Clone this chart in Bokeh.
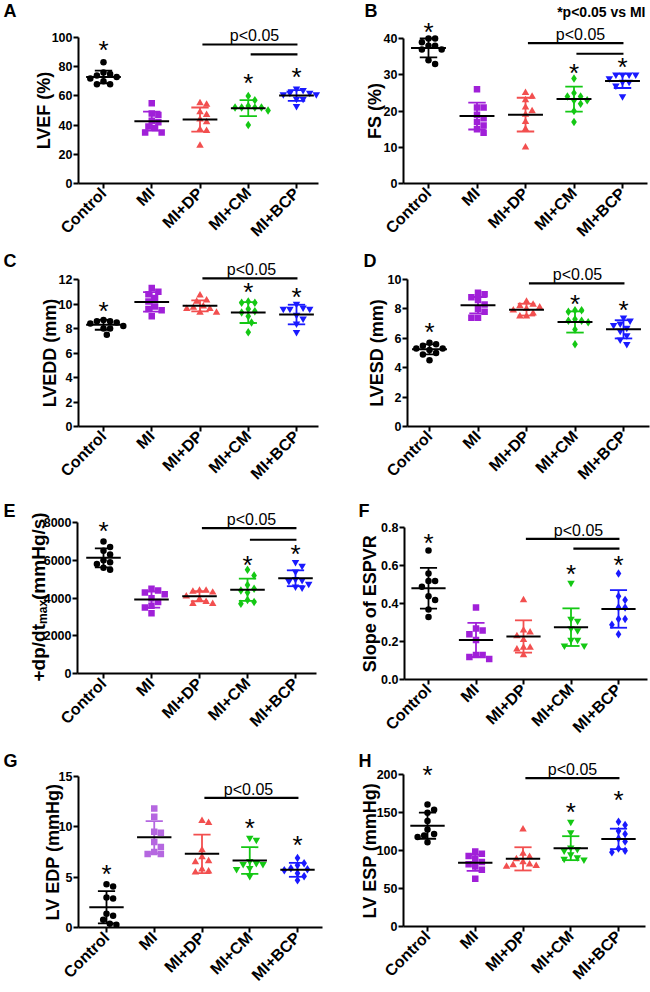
import math
from bokeh.plotting import figure
from bokeh.layouts import row, column
from bokeh.models import Range1d, FixedTicker, PrintfTickFormatter
from bokeh.embed import file_html
from bokeh.resources import INLINE
from bokeh.core.properties import value

groups = ["Control", "MI", "MI+DP", "MI+CM", "MI+BCP"]

# ---------------- data ----------------
lvef_points = [[83, 75, 76, 74, 73, 72, 70, 68, 68],
               [55, 47, 48, 43, 42, 38, 39, 35, 35],
               [55, 54, 49, 47, 44, 42, 37, 36, 26],
               [60, 57, 53, 52, 52, 52, 52, 50, 40],
               [65, 64, 62, 62, 61, 61, 58, 58, 53]]
lvef_mean = [73.0, 42.7, 43.8, 51.6, 60.3]
lvef_sd = [4.35, 6.5, 8.25, 5.45, 3.65]

fs_points = [[40, 40, 39, 38, 38, 37, 37, 34, 33],
             [26, 21, 21, 19, 18, 17, 16, 15, 14],
             [25, 24, 23, 21, 20, 19, 17, 15, 10],
             [29, 25, 24, 24, 23, 23, 22, 20, 17],
             [30, 30, 30, 30, 29, 28, 28, 27, 24]]
fs_mean = [37.4, 18.6, 19.0, 23.3, 28.3]
fs_sd = [2.6, 3.7, 4.65, 3.45, 1.95]

lvedd_points = [[8.7, 8.6, 8.6, 8.5, 8.4, 8.2, 8.0, 8.0, 7.5],
                [11.3, 11.0, 10.8, 10.5, 10.2, 9.8, 9.6, 9.5, 9.0],
                [10.7, 10.3, 10.2, 9.8, 9.7, 9.6, 9.6, 9.3, 9.3],
                [10.2, 10.1, 10.1, 9.6, 9.4, 9.3, 9.0, 8.5, 7.7],
                [10.0, 9.7, 9.6, 9.6, 9.6, 9.1, 8.8, 8.4, 7.7]]
lvedd_mean = [8.3, 10.17, 9.85, 9.3, 9.14]
lvedd_sd = [0.4, 0.8, 0.45, 0.85, 0.8]

lvesd_points = [[5.7, 5.6, 5.5, 5.3, 5.3, 5.2, 5.0, 4.9, 4.5],
                [9.1, 9.0, 8.8, 8.6, 8.3, 8.0, 7.8, 7.4, 7.4],
                [8.5, 8.3, 8.2, 8.1, 8.0, 7.9, 7.7, 7.5, 7.5],
                [7.9, 7.9, 7.8, 7.3, 7.2, 7.2, 7.1, 6.6, 5.6],
                [7.4, 7.2, 7.0, 6.9, 6.7, 6.5, 6.2, 5.9, 5.6]]
lvesd_mean = [5.25, 8.25, 7.95, 7.11, 6.61]
lvesd_sd = [0.34, 0.56, 0.4, 0.72, 0.62]

dpdt_points = [[7000, 6700, 6500, 6300, 6000, 5900, 5800, 5600, 5500],
               [4500, 4400, 4300, 4200, 4000, 3800, 3600, 3500, 3200],
               [4400, 4400, 4350, 4300, 4100, 3950, 3800, 3700, 3700],
               [5500, 5200, 4700, 4500, 4400, 4300, 3900, 3800, 3700],
               [5900, 5700, 5400, 5000, 4950, 4900, 4750, 4600, 4550]]
dpdt_mean = [6130, 3925, 4100, 4440, 5050]
dpdt_sd = [505, 425, 265, 590, 420]

espvr_points = [[0.68, 0.56, 0.52, 0.52, 0.49, 0.44, 0.42, 0.37, 0.33],
                [0.38, 0.27, 0.26, 0.24, 0.21, 0.13, 0.13, 0.12, 0.11],
                [0.42, 0.26, 0.25, 0.23, 0.21, 0.17, 0.17, 0.16, 0.13],
                [0.51, 0.32, 0.31, 0.27, 0.26, 0.21, 0.21, 0.18, 0.18],
                [0.56, 0.44, 0.42, 0.38, 0.38, 0.32, 0.32, 0.29, 0.24]]
espvr_mean = [0.482, 0.21, 0.228, 0.277, 0.373]
espvr_sd = [0.107, 0.09, 0.085, 0.099, 0.099]

edp_points = [[4.3, 4.1, 3.0, 2.9, 1.4, 1.2, 0.8, 0.4, 0.3],
              [11.8, 11.0, 9.5, 9.4, 8.5, 8.0, 7.5, 7.3, 7.3],
              [10.6, 10.4, 7.7, 7.0, 6.6, 6.5, 5.8, 5.6, 5.5],
              [8.9, 8.7, 6.6, 6.4, 6.3, 6.3, 5.9, 5.8, 5.1],
              [6.9, 6.4, 6.2, 5.9, 5.8, 5.7, 5.4, 5.1, 4.7]]
edp_mean = [2.04, 8.97, 7.32, 6.66, 5.74]
edp_sd = [1.6, 1.6, 1.9, 1.32, 0.69]

esp_points = [[161, 154, 150, 139, 128, 122, 120, 118, 111],
              [99, 96, 93, 89, 85, 82, 79, 75, 63],
              [128, 96, 92, 89, 85, 82, 81, 80, 79],
              [138, 124, 104, 102, 100, 95, 91, 89, 88],
              [138, 134, 126, 122, 116, 112, 103, 100, 98]]
esp_mean = [133, 84, 89.2, 103.3, 115.5]
esp_sd = [17.3, 10.6, 15.3, 15.8, 13.5]

# ---------------- styling / layout config ----------------
FONT = "Liberation Sans"
COLORS = ["#000000", "#a020d8", "#f24f4f", "#14c814", "#1a1aff"]
COLORS_G = ["#000000", "#b567e0", "#f24f4f", "#14c814", "#1a1aff"]
MK1 = ["circle", "square", "triangle", "diamond", "inverted_triangle"]
MK2 = ["circle", "square", "triangle", "inverted_triangle", "diamond"]
MSIZE = {"circle": 6.5, "square": 6.5, "triangle": 7.5, "diamond": 8.5,
         "inverted_triangle": 7.5}
BASE_FUDGE = 0.3    # empirical shift of the alphabetic baseline (in em)
BASE_FUDGE2 = 0.41  # used for letters and stars
YLAB_FS = 18

COL_X = [0, 325]
ROW_Y = [0, 250, 500, 750]
COL_W = [325, 325]
ROW_H = [250, 250, 250, 242]

# geometry in page pixels: (first category x, px per category, y-axis x,
#                           x-axis right end, y of value 0, px per unit)
panels = [
    dict(key="A", col=0, row=0, pts=lvef_points, mean=lvef_mean, sd=lvef_sd,
         ylabel="LVEF (%)", ylx=48.5, yticks=[0, 20, 40, 60, 80, 100], fmt="%d",
         geom=(103, 48.25, 78, 318, 183, 1.46), sig=[(2, 4, 95.2), (3, 4, 88.4)],
         ptx=254, stars={0: 94.5, 3: 72.0, 4: 76.0}, colors=COLORS, marks=MK1,
         letter=(3, 18)),
    dict(key="B", col=1, row=0, pts=fs_points, mean=fs_mean, sd=fs_sd,
         ylabel="FS (%)", ylx=379.5, yticks=[0, 10, 20, 30, 40], fmt="%d",
         geom=(428, 48.5, 403, 647, 183, 3.625), sig=[(2, 4, 38.7), (3, 4, 35.8)],
         ptx=580, stars={0: 43.0, 3: 31.6, 4: 33.3}, colors=COLORS, marks=MK1,
         letter=(364, 18)),
    dict(key="C", col=0, row=1, pts=lvedd_points, mean=lvedd_mean, sd=lvedd_sd,
         ylabel="LVEDD (mm)", ylx=54.5, yticks=[0, 2, 4, 6, 8, 10, 12], fmt="%d",
         geom=(103, 48.25, 78, 318, 426, 12.25), sig=[(2, 4, 12.1)],
         ptx=251, stars={0: 9.77, 3: 11.3, 4: 10.9}, colors=COLORS, marks=MK1,
         letter=(3, 268)),
    dict(key="D", col=1, row=1, pts=lvesd_points, mean=lvesd_mean, sd=lvesd_sd,
         ylabel="LVESD (mm)", ylx=381.5, yticks=[0, 2, 4, 6, 8, 10], fmt="%d",
         geom=(429, 48.5, 407, 649, 426, 14.7), sig=[(2, 4, 9.73)],
         ptx=577, stars={0: 6.73, 3: 8.64, 4: 8.18}, colors=COLORS, marks=MK1,
         letter=(363, 268)),
    dict(key="E", col=0, row=2, pts=dpdt_points, mean=dpdt_mean, sd=dpdt_sd,
         ylabel=None, ylx=None, yticks=[0, 2000, 4000, 6000, 8000], fmt="%d",
         geom=(103, 48.0, 77, 316, 673.3, 0.018917), sig=[(2, 4, 7700), (3, 4, 7085)],
         ptx=251, stars={0: 7790, 3: 5990, 4: 6560}, colors=COLORS, marks=MK1,
         letter=(3, 518)),
    dict(key="F", col=1, row=2, pts=espvr_points, mean=espvr_mean, sd=espvr_sd,
         ylabel="Slope of ESPVR", ylx=374.5, yticks=[0, 0.2, 0.4, 0.6, 0.8], fmt="%.1f",
         geom=(428, 47.5, 404, 647, 679.3, 190.0), sig=[(2, 4, 0.742), (3, 4, 0.69)],
         ptx=578, stars={0: 0.742, 3: 0.579, 4: 0.628}, colors=COLORS, marks=MK2,
         letter=(358, 518)),
    dict(key="G", col=0, row=3, pts=edp_points, mean=edp_mean, sd=edp_sd,
         ylabel="LV EDP (mmHg)", ylx=58, yticks=[0, 5, 10, 15], fmt="%d",
         geom=(106, 47.75, 78, 322, 927.3, 10.1), sig=[(2, 4, 12.87)],
         ptx=248, stars={0: 5.74, 3: 10.3, 4: 8.64}, colors=COLORS_G, marks=MK2,
         letter=(3, 768)),
    dict(key="H", col=1, row=3, pts=esp_points, mean=esp_mean, sd=esp_sd,
         ylabel="LV ESP (mmHg)", ylx=374.5, yticks=[0, 50, 100, 150, 200], fmt="%d",
         geom=(427, 47.75, 403, 645, 926, 0.7583), sig=[(2, 4, 195.6)],
         ptx=572, stars={0: 205, 3: 156.5, 4: 172.7}, colors=COLORS, marks=MK2,
         letter=(358, 768)),
]


def swarm_offsets(vals, ppu, d=6.6):
    """Simple beeswarm: horizontal pixel offsets for one group."""
    order = sorted(range(len(vals)), key=lambda i: -vals[i])
    cands = [0.0]
    for n in range(1, 30):
        cands += [n * d / 2.0, -n * d / 2.0]
    placed = []
    offs = [0.0] * len(vals)
    for i in order:
        y = vals[i] * ppu
        for c in cands:
            if all(math.hypot(c - px, y - py) >= d for px, py in placed):
                break
        placed.append((c, y))
        offs[i] = c
    return offs


def make_panel(cfg):
    col, rw = cfg["col"], cfg["row"]
    ox, oy, Wc, Hc = COL_X[col], ROW_Y[rw], COL_W[col], ROW_H[rw]
    cx0, ppc, axl, axr, y0, ppu = cfg["geom"]

    def dx(px):
        return (px - cx0) / ppc

    def dy(py):
        return (y0 - py) / ppu

    p = figure(width=Wc, height=Hc,
               x_range=Range1d(dx(ox), dx(ox + Wc)),
               y_range=Range1d(dy(oy + Hc), dy(oy)),
               output_backend="svg", toolbar_location=None,
               min_border_left=0, min_border_right=0,
               min_border_top=0, min_border_bottom=0)
    p.title.visible = False
    p.xgrid.visible = False
    p.ygrid.visible = False
    p.outline_line_color = None

    ya = p.yaxis[0]
    ya.fixed_location = dx(axl)
    ya.ticker = FixedTicker(ticks=cfg["yticks"])
    ya.formatter = PrintfTickFormatter(format=cfg["fmt"])
    ya.bounds = (0, cfg["yticks"][-1])
    ya.axis_line_width = 2
    ya.major_tick_line_width = 2
    ya.major_tick_out = 5
    ya.major_tick_in = 0
    ya.minor_tick_line_color = None
    ya.major_label_text_font = FONT
    ya.major_label_text_font_size = "12.5px"
    ya.major_label_text_font_style = "bold"
    ya.major_label_text_color = "black"
    ya.major_label_standoff = 1

    xa = p.xaxis[0]
    xa.fixed_location = 0
    xa.bounds = (dx(axl), dx(axr))
    xa.ticker = FixedTicker(ticks=[0, 1, 2, 3, 4])
    xa.major_label_overrides = {i: g for i, g in enumerate(groups)}
    xa.major_label_orientation = math.pi / 4
    xa.axis_line_width = 2
    xa.major_tick_line_width = 2
    xa.major_tick_out = 5
    xa.major_tick_in = 0
    xa.minor_tick_line_color = None
    xa.major_label_text_font = FONT
    xa.major_label_text_font_size = "16px"
    xa.major_label_text_font_style = "bold"
    xa.major_label_text_color = "black"
    xa.major_label_standoff = 2

    # points (beeswarm)
    for gi, vals in enumerate(cfg["pts"]):
        offs = swarm_offsets(vals, ppu)
        mk = cfg["marks"][gi]
        p.scatter([gi + o / ppc for o in offs], vals, marker=mk, size=MSIZE[mk],
                  color=cfg["colors"][gi], line_width=0)
    # error bars (SD) + mean lines
    for gi in range(5):
        m, s = cfg["mean"][gi], cfg["sd"][gi]
        c = cfg["colors"][gi]
        p.segment(x0=[gi], y0=[m - s], x1=[gi], y1=[m + s], line_color=c, line_width=1.8)
        p.segment(x0=[gi - 0.18, gi - 0.18], y0=[m - s, m + s],
                  x1=[gi + 0.18, gi + 0.18], y1=[m - s, m + s], line_color=c,
                  line_width=1.8)
        p.segment(x0=[gi - 0.36], y0=[m], x1=[gi + 0.36], y1=[m],
                  line_color="black", line_width=2)
    # significance brackets
    top_line = max(s[2] for s in cfg["sig"])
    for (i, j, yv) in cfg["sig"]:
        p.segment(x0=[i + 0.05], y0=[yv], x1=[j + 0.02], y1=[yv],
                  line_color="black", line_width=2.2)
    pfs = 16
    line_py = y0 - top_line * ppu
    p.text(x=[dx(cfg["ptx"])], y=[dy(line_py - 4 - BASE_FUDGE * pfs)], text=["p<0.05"],
           text_font=value(FONT), text_font_size=f"{pfs}px", text_align="center",
           text_baseline="alphabetic", text_color="black")
    # stars
    sfs = 26
    keys = list(cfg["stars"].keys())
    sy = []
    for k in keys:
        cpy = y0 - cfg["stars"][k] * ppu
        sy.append(dy(cpy + 0.57 * sfs - BASE_FUDGE2 * sfs))
    p.text(x=keys, y=sy, text=["*"] * len(keys), text_font=value(FONT),
           text_font_size=f"{sfs}px", text_align="center", text_baseline="alphabetic",
           text_color="black")

    # y-axis title (rotated text)
    if cfg["ylabel"]:
        top_py = y0 - cfg["yticks"][-1] * ppu
        cy = (y0 + top_py) / 2.0
        p.text(x=[dx(cfg["ylx"] - BASE_FUDGE * YLAB_FS)], y=[dy(cy)], text=[cfg["ylabel"]],
               angle=math.pi / 2, text_font=value(FONT), text_font_size=f"{YLAB_FS}px",
               text_font_style="bold", text_align="center", text_baseline="alphabetic",
               text_color="black")

    # panel letter
    lfs = 18
    lx, ly = cfg["letter"]
    p.text(x=[dx(lx)], y=[dy(ly - BASE_FUDGE2 * lfs)], text=[cfg["key"]],
           text_font=value(FONT), text_font_size=f"{lfs}px", text_font_style="bold",
           text_align="left", text_baseline="alphabetic", text_color="black")

    if cfg["key"] == "B":
        nfs = 14
        p.text(x=[dx(645)], y=[dy(16 - BASE_FUDGE * nfs)], text=["*p<0.05 vs MI"],
               text_font=value(FONT), text_font_size=f"{nfs}px", text_font_style="bold",
               text_align="right", text_baseline="alphabetic", text_color="black")

    if cfg["key"] == "E":
        f1, f2 = 19, 12
        w1 = 3.028 * f1
        w2 = 2.001 * f2
        bx, by = 44 - BASE_FUDGE * f1, 681
        parts = [("+dp/dt", f1, bx, by),
                 ("max", f2, bx + 4, by - w1),
                 ("(mmHg/s)", f1, bx, by - w1 - w2)]
        for txt, fsz, px, py in parts:
            p.text(x=[dx(px)], y=[dy(py)], text=[txt], angle=math.pi / 2,
                   text_font=value(FONT), text_font_size=f"{fsz}px",
                   text_font_style="bold", text_align="left",
                   text_baseline="alphabetic", text_color="black")
    return p


figs = {cfg["key"]: make_panel(cfg) for cfg in panels}
layout = column(row(figs["A"], figs["B"]), row(figs["C"], figs["D"]),
                row(figs["E"], figs["F"]), row(figs["G"], figs["H"]))

open("out.html", "w").write(file_html(layout, INLINE))
